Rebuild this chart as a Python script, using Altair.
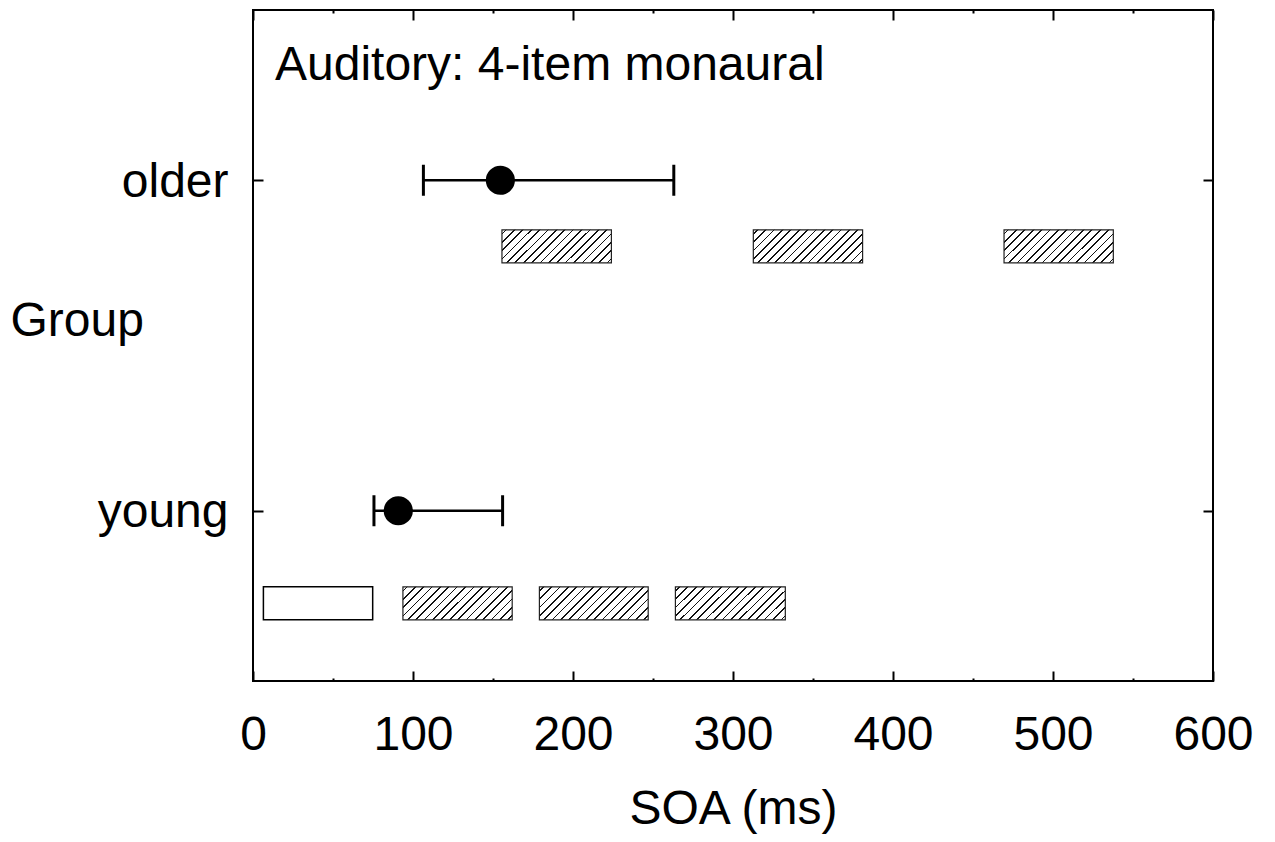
import altair as alt
import pandas as pd

# ---------------- data ----------------
group_names = ["older", "young"]
group_codes = [2, 1]
mean_soa = [154.6, 90.8]
ci_low = [106.5, 75.6]
ci_high = [263.0, 156.0]

bar_groups = ["older", "older", "older", "young", "young", "young", "young"]
bar_levels = [1.8, 1.8, 1.8, 0.72, 0.72, 0.72, 0.72]
bar_kinds = ["hatched", "hatched", "hatched", "open", "hatched", "hatched", "hatched"]
bar_starts = [155.6, 312.7, 469.4, 6.5, 93.7, 179.0, 264.0]
bar_ends = [224.0, 381.0, 537.7, 74.8, 162.0, 247.0, 332.7]

major_ticks = [0, 100, 200, 300, 400, 500, 600]
minor_ticks = [50, 150, 250, 350, 450, 550]

groups_df = pd.DataFrame({
    "group": group_names,
    "code": group_codes,
    "mean": mean_soa,
    "low": ci_low,
    "high": ci_high,
})
bars_df = pd.DataFrame({
    "group": bar_groups,
    "level": bar_levels,
    "kind": bar_kinds,
    "start": bar_starts,
    "end": bar_ends,
})

# ---------------- styling ----------------
FONT = "Liberation Sans"
FS = 48
BAR_W, BAR_H = 109.0, 33.0   # approx. pixel size of a bar, for the hatch pattern
N_STRIPES = 17
LINE_T = 0.012

# hatch "/" pattern as a hard-stop linear gradient in bounding-box units
gx, gy = 1.0, BAR_H / BAR_W
s = (gx + gy) / (gx * gx + gy * gy)
hx, hy = gx * s, gy * s
stops = [{"offset": 0.0, "color": "white"}]
for k in range(N_STRIPES):
    c = (k + 0.5) / N_STRIPES
    a, b = c - LINE_T / 2, c + LINE_T / 2
    stops += [
        {"offset": a, "color": "white"},
        {"offset": a, "color": "#111111"},
        {"offset": b, "color": "#111111"},
        {"offset": b, "color": "white"},
    ]
stops.append({"offset": 1.0, "color": "white"})
hatch = alt.LinearGradient(gradient="linear", x1=0, y1=0, x2=hx, y2=hy, stops=stops)

x_scale = alt.Scale(domain=[0, 600], nice=False, zero=False)
y_scale = alt.Scale(domain=[0.5, 2.5], nice=False, zero=False)

x_axis_main = alt.Axis(
    orient="bottom", values=major_ticks, offset=-10, tickSize=10, tickWidth=2,
    tickColor="black", domain=False, grid=False,
    labelFontSize=FS, labelColor="black", labelPadding=30, labelFlush=False,
    labelOverlap=False, labelFont=FONT,
    title="SOA (ms)", titleFontSize=FS, titleFontWeight="normal", titleColor="black",
    titleFont=FONT, titleBaseline="alphabetic", titleY=152,
)
x_axis_minor_bottom = alt.Axis(
    orient="bottom", values=minor_ticks, offset=-3, tickSize=3, tickWidth=2,
    tickColor="black", domain=False, grid=False, labels=False, title=None,
)
x_axis_top = alt.Axis(
    orient="top", values=major_ticks, offset=-10, tickSize=10, tickWidth=2,
    tickColor="black", domain=False, grid=False, labels=False, title=None,
)
x_axis_minor_top = alt.Axis(
    orient="top", values=minor_ticks, offset=-3, tickSize=3, tickWidth=2,
    tickColor="black", domain=False, grid=False, labels=False, title=None,
)
y_axis_main = alt.Axis(
    orient="left", values=group_codes, offset=-10, tickSize=10, tickWidth=2,
    tickColor="black", domain=False, grid=False,
    labelExpr="datum.value === 2 ? 'older' : 'young'",
    labelFontSize=FS, labelColor="black", labelPadding=25, labelFont=FONT,
    labelOffset=2,
    title="Group", titleFontSize=FS, titleFontWeight="normal", titleColor="black",
    titleFont=FONT, titleAngle=0, titleAlign="left", titleBaseline="alphabetic",
    titleX=-253, titleY=325,
)
y_axis_right = alt.Axis(
    orient="right", values=group_codes, offset=-10, tickSize=10, tickWidth=2,
    tickColor="black", domain=False, grid=False, labels=False, title=None,
)

hatched_bars = alt.Chart(bars_df).transform_filter(
    alt.datum.kind == "hatched"
).mark_bar(height=BAR_H, fill=hatch, stroke="#222222", strokeWidth=1.2).encode(
    x=alt.X("start:Q", scale=x_scale, axis=x_axis_main),
    x2="end:Q",
    y=alt.Y("level:Q", scale=y_scale, axis=y_axis_main),
)

open_bars = alt.Chart(bars_df).transform_filter(
    alt.datum.kind == "open"
).mark_bar(height=BAR_H, fill="white", stroke="black", strokeWidth=1.5).encode(
    x=alt.X("start:Q", scale=x_scale, axis=x_axis_minor_bottom),
    x2="end:Q",
    y=alt.Y("level:Q", scale=y_scale, axis=None),
)

err_lines = alt.Chart(groups_df).mark_rule(color="black", strokeWidth=2.5).encode(
    x=alt.X("low:Q", scale=x_scale, axis=x_axis_top),
    x2="high:Q",
    y=alt.Y("code:Q", scale=y_scale, axis=y_axis_right),
)

cap_low = alt.Chart(groups_df).mark_tick(
    orient="vertical", size=31, thickness=3, color="black", opacity=1
).encode(
    x=alt.X("low:Q", scale=x_scale, axis=x_axis_minor_top),
    y=alt.Y("code:Q", scale=y_scale, axis=None),
)
cap_high = alt.Chart(groups_df).mark_tick(
    orient="vertical", size=31, thickness=3, color="black", opacity=1
).encode(
    x=alt.X("high:Q", scale=x_scale, axis=None),
    y=alt.Y("code:Q", scale=y_scale, axis=None),
)

points = alt.Chart(groups_df).mark_circle(size=850, color="black", opacity=1).encode(
    x=alt.X("mean:Q", scale=x_scale, axis=None),
    y=alt.Y("code:Q", scale=y_scale, axis=None),
)

chart = alt.layer(
    hatched_bars, open_bars, err_lines, cap_low, cap_high, points
).resolve_axis(
    x="independent", y="independent"
).properties(
    width=960,
    height=671,
    autosize=alt.AutoSizeParams(type="none"),
    padding={"left": 253, "top": 10, "right": 62, "bottom": 161},
    background="white",
    title=alt.TitleParams(
        text="Auditory: 4-item monaural", anchor="start", frame="group",
        fontSize=FS, fontWeight="normal", font=FONT, color="black",
        baseline="alphabetic", offset=0, dx=22, dy=119,
    ),
).configure(
    font=FONT
).configure_view(
    stroke="black", strokeWidth=2
)

chart.save("out.html", embed_options={"renderer": "svg", "actions": False})
